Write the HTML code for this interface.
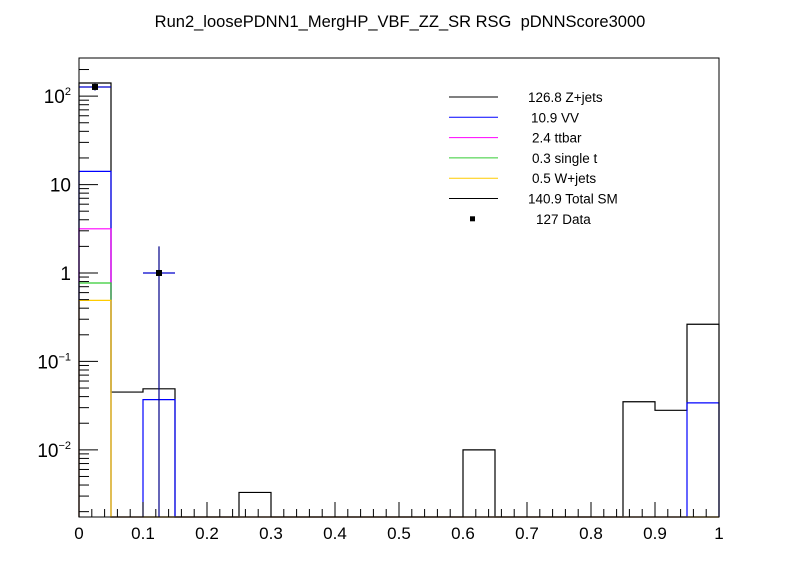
<!DOCTYPE html>
<html><head><meta charset="utf-8"><style>
html,body{margin:0;padding:0;background:#fff;}
svg{display:block;font-family:"Liberation Sans",sans-serif;}
</style></head><body>
<svg id="c" width="798" height="575" viewBox="0 0 798 575">
<rect width="798" height="575" fill="#fff"/>
<text x="400" y="27" text-anchor="middle" font-size="16.5">Run2_loosePDNN1_MergHP_VBF_ZZ_SR RSG&#160; pDNNScore3000</text>
<g id="plot"></g>
</svg>
<script>
const binEdges = [0,0.05,0.1,0.15,0.2,0.25,0.3,0.35,0.4,0.45,0.5,0.55,0.6,0.65,0.7,0.75,0.8,0.85,0.9,0.95,1.0];
const wjets   = [0.49,0,0,0,0,0,0,0,0,0,0,0,0,0,0,0,0,0,0,0];
const singlet = [0.28,0,0,0,0,0,0,0,0,0,0,0,0,0,0,0,0,0,0,0];
const ttbar   = [2.39,0,0,0,0,0,0,0,0,0,0,0,0,0,0,0,0,0,0,0];
const vv      = [10.94,0,0.037,0,0,0,0,0,0,0,0,0,0,0,0,0,0,0,0,0.034];
const zjets   = [126.8,0.045,0.012,0,0,0.0033,0,0,0,0,0,0,0.01,0,0,0,0,0.035,0.028,0.229];
const dataX = [0.025,0.125];
const dataY = [127,1];
const dataErr = [11.3,1.0];
const xTicks = [0,0.1,0.2,0.3,0.4,0.5,0.6,0.7,0.8,0.9,1];
const yTicks = [0.01,0.1,1,10,100];
const yLabels = ["10<tspan dy='-8' font-size='11'>\u22122</tspan>","10<tspan dy='-8' font-size='11'>\u22121</tspan>","1","10","10<tspan dy='-8' font-size='11'>2</tspan>"];
const legendLabels = ["126.8 Z+jets","10.9 VV","2.4 ttbar","0.3 single t","0.5 W+jets","140.9 Total SM","127 Data"];

const X0=79,X1=719,Y0=58,Y1=517;
const ymin=Math.log10(0.00174), ymax=Math.log10(270);
const sx=v=>X0+(v-0)/(1-0)*(X1-X0);
const sy=v=>v<=0?Y1:Math.max(Y0,Math.min(Y1,Y1-(Math.log10(v)-ymin)/(ymax-ymin)*(Y1-Y0)));
const NS="http://www.w3.org/2000/svg";
const g=document.getElementById('plot');
function mk(t,a,p){const e=document.createElementNS(NS,t);for(const k in a)e.setAttribute(k,a[k]);(p||g).appendChild(e);return e;}

const n=binEdges.length-1;
const c1=wjets.slice(), c2=[],c3=[],c4=[],c5=[];
for(let i=0;i<n;i++){c2[i]=c1[i]+singlet[i];c3[i]=c2[i]+ttbar[i];c4[i]=c3[i]+vv[i];c5[i]=c4[i]+zjets[i];}
const layers=[[c5,'#000','hist-total-zjets'],[c4,'#0000ff','hist-vv'],[c3,'#ff00ff','hist-ttbar'],[c2,'#33cc33','hist-single-t'],[c1,'#ffcc00','hist-wjets']];
for(const [arr,col,name] of layers){
  let d=`M${sx(binEdges[0])},${Y1}`;
  for(let i=0;i<n;i++){d+=` L${sx(binEdges[i])},${sy(arr[i])} L${sx(binEdges[i+1])},${sy(arr[i])}`;}
  d+=` L${sx(binEdges[n])},${Y1}`;
  const p=mk('path',{d:d,fill:'none',stroke:col,'stroke-width':1.2});
  
  
}
for(let i=0;i<dataX.length;i++){
  const bw=0.025;
  const h=mk('line',{x1:sx(dataX[i]-bw),x2:sx(dataX[i]+bw),y1:sy(dataY[i]),y2:sy(dataY[i]),stroke:'#0000cc','stroke-width':1.2});
  
  
  const v=mk('line',{x1:sx(dataX[i]),x2:sx(dataX[i]),y1:sy(dataY[i]+dataErr[i]),y2:sy(dataY[i]-dataErr[i]),stroke:'#000088','stroke-width':1.2});
  
  
  const m=mk('rect',{x:sx(dataX[i])-3,y:sy(dataY[i])-3,width:6,height:6,fill:'#000'});
  
  
}
const fr=mk('rect',{x:X0,y:Y0,width:X1-X0,height:Y1-Y0,fill:'none',stroke:'#000','stroke-width':1});


for(let k=0;k<=50;k++){
  const v=k*0.02, x=sx(v), major=(k%5===0);
  mk('line',{x1:x,x2:x,y1:Y1,y2:Y1-(major?15:8),stroke:'#000','stroke-width':1});
}
xTicks.forEach(v=>{
  const t=mk('text',{x:sx(v),y:Y1+22,'text-anchor':'middle','font-size':17});
  t.textContent=String(v);
  
  
});
for(let e=-3;e<=2;e++){
  for(let m=1;m<10;m++){
    const v=m*Math.pow(10,e);
    if(v<0.00174||v>270)continue;
    const y=sy(v);
    mk('line',{x1:X0,x2:X0+(m===1?19:10),y1:y,y2:y,stroke:'#000','stroke-width':1});
  }
}
yTicks.forEach((v,i)=>{
  const t=mk('text',{x:X0-8,y:sy(v)+7,'text-anchor':'end','font-size':19});
  t.innerHTML=yLabels[i];
  
  
});
const lcols=['#000','#0000ff','#ff00ff','#33cc33','#ffcc00','#000'];
const lx=[528,531,532,532,532,528,536];
legendLabels.forEach((s,i)=>{
  const y=97+i*20.3;
  if(i<6){const l=mk('line',{x1:449,x2:498,y1:y,y2:y,stroke:lcols[i],'stroke-width':1});
    
    }
  else{const r=mk('rect',{x:470,y:y-2.5,width:5,height:5,fill:'#000'});
    
    }
  const t=mk('text',{x:lx[i],y:y+5,'font-size':13.5});
  t.textContent=s;
  
  
});
</script>
</body></html>
